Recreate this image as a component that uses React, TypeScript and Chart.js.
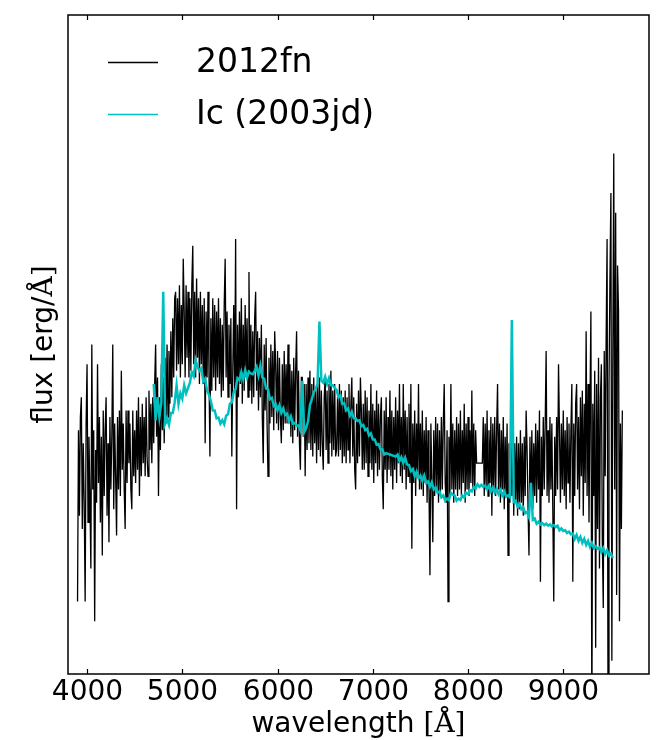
import { useEffect, useRef } from "react";
import { Chart, registerables } from "chart.js";

Chart.register(...registerables);

// SN 2012fn spectrum, sampled every 10 Å from 3900 Å (arbitrary flux units)
const FN_START = 3900;
const FN_STEP = 10;
const FN_FLUX = [
  11, 37, 24, 39, 42, 22, 35, 26, 11, 38, 47, 23, 36, 27, 16, 50, 28, 37, 8, 34,
  26, 47, 29, 39, 23, 36, 18, 40, 27, 37, 42, 24, 35, 20, 39, 28, 36, 50, 25, 38,
  30, 21, 39, 28, 40, 27, 46, 31, 38, 28, 22, 40, 29, 40, 32, 38, 28, 25, 40, 30,
  37, 29, 40, 31, 42, 27, 39, 30, 41, 32, 39, 30, 42, 33, 30, 43, 34, 41, 32, 42,
  35, 44, 50, 36, 45, 27, 42, 34, 47, 37, 45, 35, 48, 38, 50, 39, 49, 41, 52, 42,
  54, 45, 57, 58, 46, 57, 47, 59, 45, 56, 47, 63, 55, 45, 59, 48, 58, 45, 57, 46,
  59, 65, 47, 58, 45, 60, 48, 57, 44, 58, 47, 56, 44, 57, 35, 55, 45, 58, 46, 33,
  54, 43, 57, 45, 56, 43, 55, 45, 57, 44, 54, 42, 53, 43, 56, 63, 45, 55, 42, 53,
  44, 54, 33, 46, 56, 43, 66, 25, 53, 42, 55, 44, 57, 41, 53, 43, 56, 45, 54, 42,
  61, 43, 53, 41, 52, 42, 54, 58, 43, 52, 40, 51, 42, 53, 39, 32, 50, 40, 51, 38,
  30, 48, 38, 50, 39, 49, 37, 52, 47, 38, 49, 37, 48, 39, 35, 47, 37, 49, 38, 47,
  38, 50, 38, 47, 36, 46, 35, 48, 37, 46, 52, 36, 46, 35, 31, 45, 45, 36, 44, 30,
  44, 34, 45, 35, 46, 34, 44, 33, 45, 35, 43, 32, 44, 34, 45, 33, 43, 35, 31, 42,
  45, 34, 43, 32, 44, 35, 46, 33, 43, 34, 44, 33, 34, 42, 33, 44, 34, 43, 32, 42,
  33, 43, 32, 42, 34, 44, 32, 41, 45, 33, 42, 31, 28, 41, 32, 43, 33, 45, 40, 31,
  41, 31, 43, 32, 42, 30, 40, 32, 44, 31, 41, 29, 40, 32, 43, 30, 41, 31, 39, 42,
  30, 25, 40, 31, 42, 29, 39, 31, 43, 30, 40, 28, 39, 31, 42, 29, 40, 32, 44, 30,
  39, 29, 44, 31, 40, 28, 39, 30, 41, 29, 44, 19, 38, 29, 40, 27, 38, 30, 44, 28,
  38, 28, 40, 27, 37, 29, 39, 26, 37, 28, 15, 38, 29, 20, 37, 27, 39, 28, 38, 26,
  37, 27, 39, 28, 38, 44, 29, 26, 37, 11, 36, 27, 44, 28, 38, 26, 37, 28, 39, 27,
  38, 28, 40, 27, 37, 29, 41, 26, 38, 28, 39, 27, 37, 29, 43, 28, 38, 27, 37, 32,
  32, 32, 32, 32, 32, 32, 39, 27, 38, 28, 40, 27, 37, 29, 39, 24, 38, 28, 39, 27,
  37, 44, 28, 38, 26, 37, 28, 39, 25, 36, 27, 38, 18, 35, 26, 37, 27, 36, 24, 35,
  26, 36, 24, 35, 25, 37, 26, 35, 24, 36, 27, 40, 34, 25, 18, 36, 26, 37, 25, 35,
  27, 38, 26, 37, 28, 40, 14, 36, 27, 39, 28, 38, 49, 27, 37, 26, 39, 28, 38, 25,
  11, 36, 27, 39, 28, 47, 37, 26, 38, 28, 40, 27, 37, 25, 39, 29, 38, 26, 37, 44,
  14, 38, 27, 41, 44, 28, 39, 25, 42, 30, 43, 24, 41, 29, 52, 27, 44, 23, 40, 55,
  -8, 41, 27, 46, 4, 44, 22, 48, 16, 42, 47, 20, 10, 49, 30, 51, 66, -8, 44, 60,
  73, 2, 47, 79, 28, 70, 12, 62, 55, 8, 38, 22, 40,
];

// Type Ic template SN 2003jd, sampled every 20 Å from 4700 Å
const JD_START = 4700;
const JD_STEP = 20;
const JD_FLUX = [
  44, 38.5, 42, 39, 41.2, 58, 38, 38.8, 37.8, 39.6,
  39.6, 41.2, 43.8, 41, 42.6, 41.8, 43.8, 42.6, 43.4, 44.2,
  45.8, 45.2, 47.6, 46.6, 46, 46.4, 44.4, 44.8, 43, 42.4,
  41.4, 40, 40, 38.8, 38.9, 38, 38.5, 37.9, 39.2, 39.4,
  41, 41.2, 42.8, 43.2, 44.9, 44.6, 45.8, 44.7, 46.1, 45,
  45.9, 45.6, 45.5, 46, 46.6, 45.3, 46.8, 45, 44.8, 43.3,
  43.2, 41.7, 41.9, 40.7, 41, 40, 40.8, 39.6, 40.3, 39.3,
  39.5, 38.4, 39.1, 38, 38.1, 37.7, 37.7, 37, 44.5, 36.7,
  37.3, 38.3, 40.8, 41.7, 42.8, 43.2, 44.1, 53.5, 44.5, 44.2,
  45.1, 44, 44.9, 43.8, 43.8, 43.4, 43.1, 42, 42.3, 41,
  41.1, 40, 40.3, 39.2, 39.8, 38.8, 38.8, 38.4, 38.5, 37.6,
  37.8, 37, 37.2, 36.2, 36.5, 35.6, 35.6, 34.8, 34.9, 34.1,
  34.1, 33.3, 33.5, 33.4, 33.3, 33.2, 33.1, 33, 33.3, 32.3,
  32.9, 32, 32.8, 31.8, 31.7, 30.8, 31.1, 30, 30.7, 29.7,
  30.1, 29.3, 30.1, 29, 29.2, 28.4, 29.1, 28, 28.3, 27.5,
  27.7, 26.8, 27.1, 26.3, 26.6, 26.4, 27.5, 27.2, 27.1, 26.3,
  26.6, 26.4, 27.1, 26.8, 27.5, 27.3, 27.9, 27.7, 28.4, 28.1,
  28.8, 28.4, 28.7, 28.4, 28.6, 28, 28.6, 27.7, 28.3, 27.5,
  28.1, 27.3, 27.9, 27.1, 27.7, 26.9, 27.1, 26.8, 53.7, 26.1,
  26.3, 25.4, 25.8, 25, 25.3, 24.4, 24.6, 23.8, 29, 23.4,
  23.6, 22.8, 23.1, 22.7, 22.9, 22.6, 22.8, 22.5, 22.7, 22.4,
  22.6, 22.3, 22.5, 21.8, 22.1, 21.7, 21.8, 21.4, 21.6, 21.2,
  21.3, 20.5, 21.1, 20.2, 20.8, 19.9, 20.5, 19.6, 20.2, 19.3,
  19.9, 19.1, 19.4, 19, 19.2, 18.5, 19.1, 18.2, 18.8, 18,
  18.3, 17.6,
];

const SERIES_NAMES = ["2012fn", "Ic (2003jd)"];
const SERIES_COLORS = ["#000000", "#00bfbf"];
const X_TICKS = [4000, 5000, 6000, 7000, 8000, 9000];
const X_RANGE = [3800, 9900];
const Y_RANGE = [0, 100];

const SANS = "'DejaVu Sans', sans-serif";
const SERIF = "'DejaVu Serif', serif";

function toPoints(start: number, step: number, flux: number[]) {
  return flux.map((y, i) => ({ x: start + i * step, y }));
}

// Draws a label made of a sans part followed by a serif part, centred at (0,0)
function drawMixedLabel(ctx: CanvasRenderingContext2D, sansText: string, serifText: string, size: number) {
  ctx.font = `${size}px ${SANS}`;
  const w1 = ctx.measureText(sansText).width;
  ctx.font = `${size}px ${SERIF}`;
  const w2 = ctx.measureText(serifText).width;
  const x0 = -(w1 + w2) / 2;
  ctx.textAlign = "left";
  ctx.textBaseline = "alphabetic";
  ctx.font = `${size}px ${SANS}`;
  ctx.fillText(sansText, x0, 0);
  ctx.font = `${size}px ${SERIF}`;
  ctx.fillText(serifText, x0 + w1, 0);
}

const framePlugin = {
  id: "spectrumFrame",
  afterDraw(chart: Chart) {
    const { ctx, chartArea } = chart;
    const { left, right, top, bottom } = chartArea;
    const xs = chart.scales.x;
    ctx.save();
    ctx.strokeStyle = "#000";
    ctx.lineWidth = 1.5;
    ctx.strokeRect(left, top, right - left, bottom - top);

    // inward ticks on the top and bottom edges
    ctx.lineWidth = 1.2;
    ctx.fillStyle = "#000";
    ctx.font = `28px ${SANS}`;
    ctx.textAlign = "center";
    ctx.textBaseline = "top";
    for (const t of X_TICKS) {
      const px = Math.round(xs.getPixelForValue(t)) + 0.5;
      ctx.beginPath();
      ctx.moveTo(px, bottom);
      ctx.lineTo(px, bottom - 5);
      ctx.moveTo(px, top);
      ctx.lineTo(px, top + 5);
      ctx.stroke();
      ctx.fillText(String(t), px, bottom + 5);
    }

    // axis titles
    ctx.save();
    ctx.translate((left + right) / 2, bottom + 58);
    drawMixedLabel(ctx, "wavelength ", "[Å]", 28);
    ctx.restore();

    ctx.save();
    ctx.translate(52, (top + bottom) / 2);
    ctx.rotate(-Math.PI / 2);
    drawMixedLabel(ctx, "flux [erg/", "Å]", 28);
    ctx.restore();

    // legend
    const rows = [62, 114];
    rows.forEach((y, i) => {
      ctx.strokeStyle = SERIES_COLORS[i];
      ctx.lineWidth = 1.5;
      ctx.beginPath();
      ctx.moveTo(108, y + 0.5);
      ctx.lineTo(158, y + 0.5);
      ctx.stroke();
      ctx.fillStyle = "#000";
      ctx.font = `33px ${SANS}`;
      ctx.textAlign = "left";
      ctx.textBaseline = "middle";
      ctx.fillText(SERIES_NAMES[i], 196, y + 1);
    });
    ctx.restore();
  },
};

export default function App() {
  const canvasRef = useRef<HTMLCanvasElement | null>(null);

  useEffect(() => {
    const canvas = canvasRef.current;
    if (!canvas) return;
    const chart = new Chart(canvas, {
      type: "line",
      data: {
        datasets: [
          {
            label: SERIES_NAMES[0],
            data: toPoints(FN_START, FN_STEP, FN_FLUX),
            borderColor: SERIES_COLORS[0],
            borderWidth: 1.3,
            pointRadius: 0,
            tension: 0,
            order: 1,
          },
          {
            label: SERIES_NAMES[1],
            data: toPoints(JD_START, JD_STEP, JD_FLUX),
            borderColor: SERIES_COLORS[1],
            borderWidth: 2.5,
            pointRadius: 0,
            tension: 0,
            order: 0,
          },
        ],
      },
      options: {
        animation: false,
        responsive: false,
        devicePixelRatio: 1,
        layout: { padding: { left: 68, right: 8, top: 15, bottom: 66 } },
        scales: {
          x: { type: "linear", min: X_RANGE[0], max: X_RANGE[1], display: false },
          y: { type: "linear", min: Y_RANGE[0], max: Y_RANGE[1], display: false },
        },
        plugins: {
          legend: { display: false },
          tooltip: { enabled: false },
        },
      },
      plugins: [framePlugin],
    });
    return () => chart.destroy();
  }, []);

  return (
    <div style={{ position: "absolute", left: 0, top: 0, width: 657, height: 740, background: "#fff" }}>
      <canvas ref={canvasRef} width={657} height={740} />
    </div>
  );
}
